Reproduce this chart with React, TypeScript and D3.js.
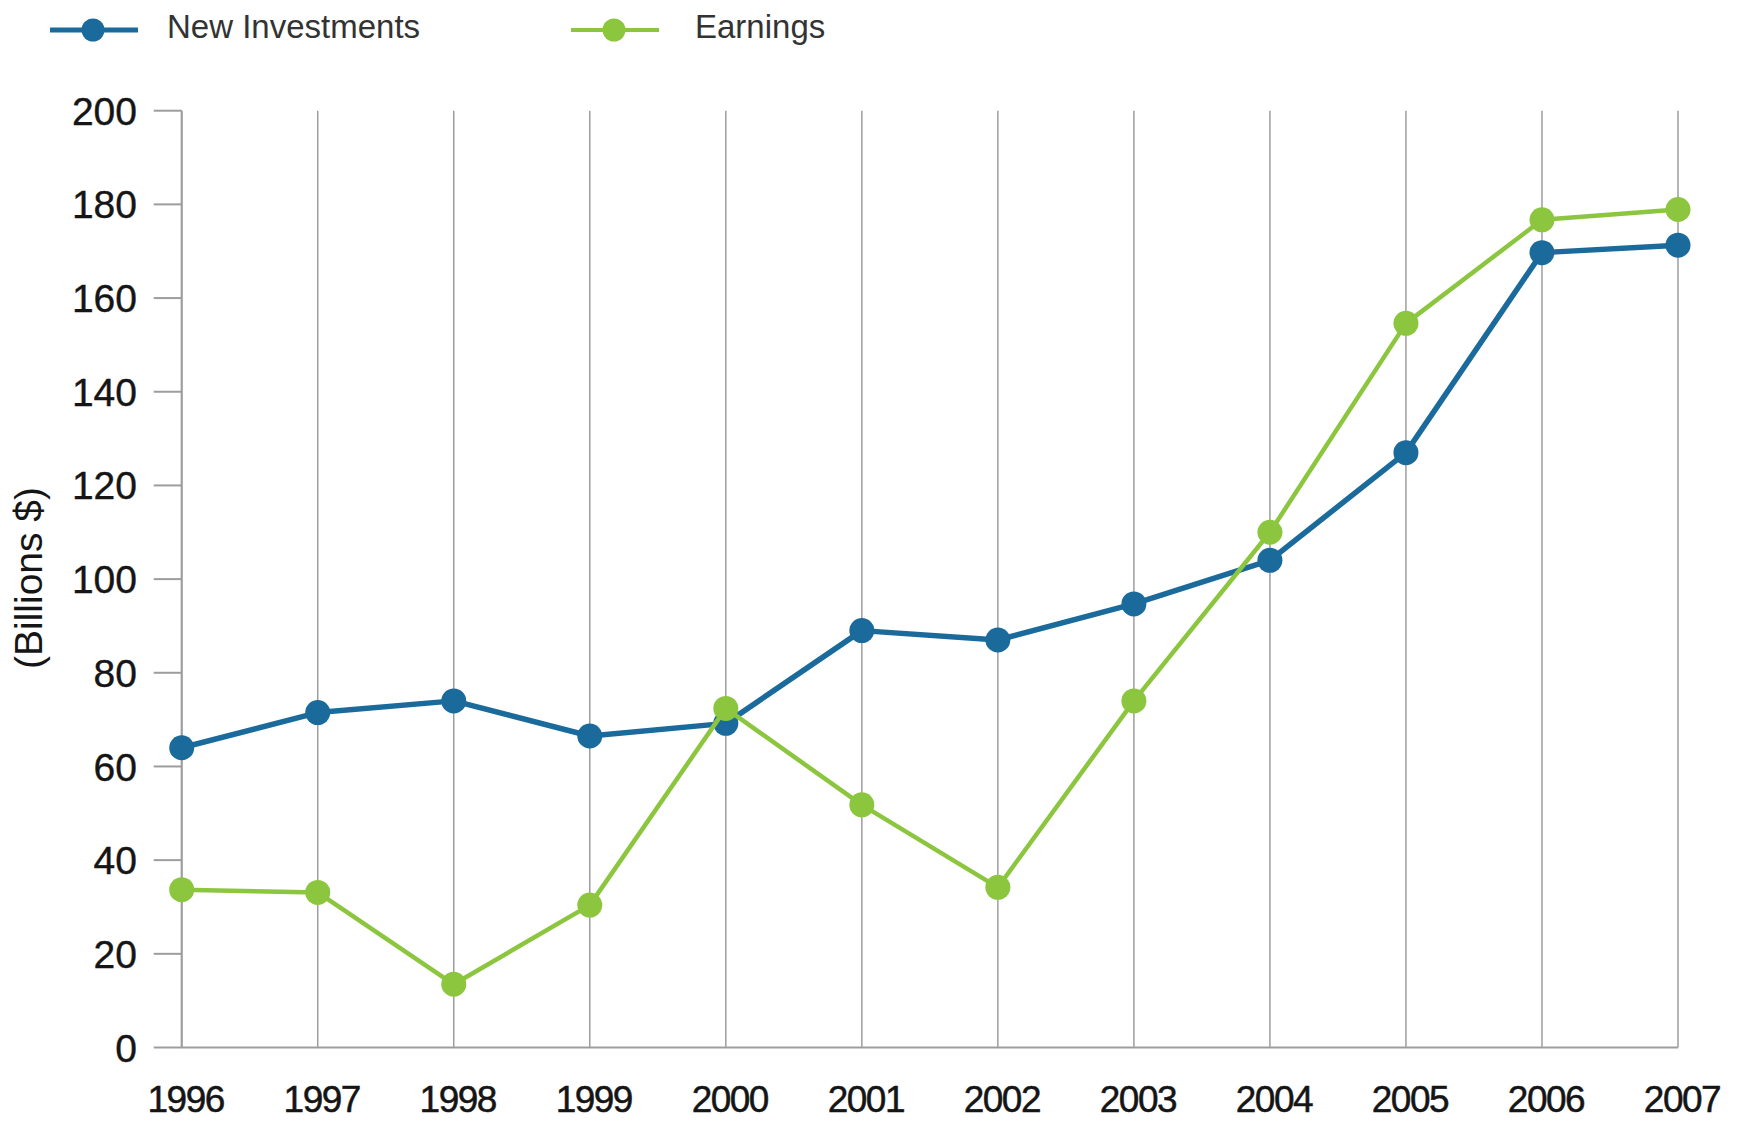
import React from "react";
import * as d3 from "d3";

const years = [1996, 1997, 1998, 1999, 2000, 2001, 2002, 2003, 2004, 2005, 2006, 2007];
const newInvestments = [64, 71.5, 74, 66.5, 69.2, 89, 87, 94.7, 104, 127, 169.7, 171.3];
const earnings = [33.7, 33.1, 13.5, 30.4, 72.4, 51.8, 34.2, 74, 110, 154.6, 176.7, 178.9];
const yTicks = [0, 20, 40, 60, 80, 100, 120, 140, 160, 180, 200];
const seriesNames = ["New Investments", "Earnings"];
const seriesColors = ["#1b6a9c", "#8cc63f"];

const W = 1738;
const H = 1121;
const left = 181.7;
const right = 1678;
const top = 110.7;
const bottom = 1047.5;
const FONT = "'Liberation Sans', Arial, Helvetica, sans-serif";

export default function App() {
  const x = d3.scaleLinear().domain([years[0], years[years.length - 1]]).range([left, right]);
  const y = d3.scaleLinear().domain([0, 200]).range([bottom, top]);
  const series = [newInvestments, earnings];
  const line = d3
    .line<number>()
    .x((_, i) => x(years[i]))
    .y((d) => y(d));

  const legendX = [50, 571];
  const legendTextX = [167, 695];

  return (
    <svg
      width={W}
      height={H}
      style={{ position: "absolute", left: 0, top: 0, background: "#fff" }}
      fontFamily={FONT}
    >
      <rect x={0} y={0} width={W} height={H} fill="#fff" />
      {years.map((yr) => (
        <line key={yr} x1={x(yr)} x2={x(yr)} y1={top} y2={bottom} stroke="#9d9d9d" strokeWidth={1.5} />
      ))}
      <line x1={left} x2={left} y1={top} y2={bottom} stroke="#9d9d9d" strokeWidth={2} />
      <line x1={left} x2={right} y1={bottom} y2={bottom} stroke="#9d9d9d" strokeWidth={2} />
      {yTicks.map((t) => (
        <g key={t}>
          <line x1={left - 28} x2={left} y1={y(t)} y2={y(t)} stroke="#9d9d9d" strokeWidth={2} />
          <text x={137} y={y(t)} dy="0.36em" textAnchor="end" fontSize={39} fill="#151515" stroke="#151515" strokeWidth={0.4}>
            {t}
          </text>
        </g>
      ))}
      {years.map((yr) => (
        <text key={yr} x={x(yr) + 4} y={1112} textAnchor="middle" fontSize={37} letterSpacing={-1.5} fill="#151515" stroke="#151515" strokeWidth={0.5}>
          {yr}
        </text>
      ))}
      <text transform={`translate(42,578) rotate(-90)`} textAnchor="middle" fontSize={39} fill="#151515">
        (Billions $)
      </text>
      {series.map((s, si) => (
        <g key={si}>
          <path d={line(s) || ""} fill="none" stroke={seriesColors[si]} strokeWidth={si === 0 ? 5.5 : 4.5} strokeLinejoin="round" />
          {s.map((v, i) => (
            <circle key={i} cx={x(years[i])} cy={y(v)} r={12.5} fill={seriesColors[si]} />
          ))}
        </g>
      ))}
      {seriesNames.map((name, si) => (
        <g key={name}>
          <line x1={legendX[si]} x2={legendX[si] + 88} y1={30} y2={30} stroke={seriesColors[si]} strokeWidth={si === 0 ? 5 : 4} />
          <circle cx={legendX[si] + 43} cy={30} r={11.5} fill={seriesColors[si]} />
          <text x={legendTextX[si]} y={38} fontSize={33} fill="#333">
            {name}
          </text>
        </g>
      ))}
    </svg>
  );
}
